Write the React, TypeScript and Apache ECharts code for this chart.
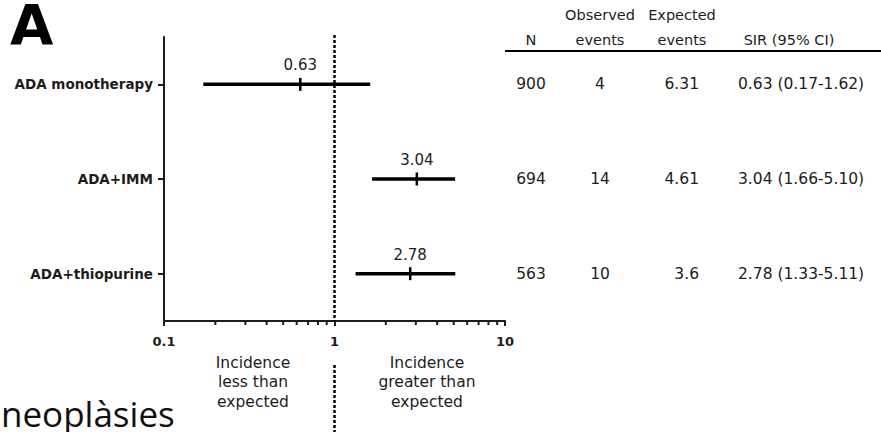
import React, { useEffect, useRef } from "react";
import * as echarts from "echarts";

// Standardised incidence ratios of neoplasia by treatment group
const groups = ["ADA monotherapy", "ADA+IMM", "ADA+thiopurine"];
const sirValues = [0.63, 3.04, 2.78];
const ciLower = [0.17, 1.66, 1.33];
const ciUpper = [1.62, 5.1, 5.11];
const patientsN = [900, 694, 563];
const observedEvents = [4, 14, 10];
const expectedEvents = [6.31, 4.61, 3.6];

// Log-axis ticks
const xMin = 0.1;
const xMax = 10;
const referenceValue = 1;
const minorTickValues = [0.2, 0.3, 0.4, 0.5, 0.6, 0.7, 0.8, 0.9, 2, 3, 4, 5, 6, 7, 8, 9];

const FONT = "DejaVu Sans";
const INK = "#1c1c1c";

export default function App() {
  const ref = useRef<HTMLDivElement>(null);

  useEffect(() => {
    if (!ref.current) return;
    const chart = echarts.init(ref.current, null, { renderer: "svg" });

    const rows = groups.map((_, i) => [
      i,
      ciLower[i],
      ciUpper[i],
      sirValues[i],
      patientsN[i],
      observedEvents[i],
      expectedEvents[i],
    ]);

    const fmt2 = (v: number) => v.toFixed(2);

    const option: any = {
      animation: false,
      backgroundColor: "#ffffff",
      grid: { left: 164, right: 376, top: 37, bottom: 111 },
      xAxis: {
        type: "log",
        logBase: 10,
        min: xMin,
        max: xMax,
        axisLine: { show: true, onZero: false, lineStyle: { color: INK, width: 2 } },
        axisTick: { show: true, length: 5, lineStyle: { color: INK, width: 2 } },
        splitLine: { show: false },
        axisLabel: {
          margin: 14,
          color: INK,
          fontFamily: FONT,
          fontWeight: "bold",
          fontSize: 13,
          formatter: (v: number) => String(v),
        },
      },
      yAxis: {
        type: "category",
        data: groups,
        inverse: true,
        axisLine: { show: true, lineStyle: { color: INK, width: 2 } },
        axisTick: { show: true, alignWithLabel: true, length: 6, lineStyle: { color: INK, width: 2 } },
        splitLine: { show: false },
        axisLabel: {
          margin: 11,
          color: INK,
          fontFamily: FONT,
          fontWeight: "bold",
          fontSize: 13.5,
        },
      },
      series: [
        {
          type: "custom",
          name: "SIR",
          data: rows,
          encode: { x: [1, 2, 3], y: 0 },
          clip: false,
          renderItem: (params: any, api: any) => {
            const idx = api.value(0);
            const lo = api.coord([api.value(1), idx]);
            const hi = api.coord([api.value(2), idx]);
            const mid = api.coord([api.value(3), idx]);
            const y = mid[1];
            const cell = (text: string, x: number, align: string) => ({
              type: "text",
              style: {
                text,
                x,
                y,
                align,
                verticalAlign: "middle",
                fill: INK,
                font: `15.5px "${FONT}"`,
              },
            });
            return {
              type: "group",
              children: [
                {
                  type: "line",
                  shape: { x1: lo[0], y1: y, x2: hi[0], y2: y },
                  style: { stroke: "#000", lineWidth: 3.5 },
                },
                {
                  type: "line",
                  shape: { x1: mid[0], y1: y - 6.5, x2: mid[0], y2: y + 6.5 },
                  style: { stroke: "#000", lineWidth: 2.5 },
                },
                {
                  type: "text",
                  style: {
                    text: fmt2(api.value(3)),
                    x: mid[0],
                    y: y - 19,
                    align: "center",
                    verticalAlign: "middle",
                    fill: INK,
                    font: `15px "${FONT}"`,
                  },
                },
                cell(String(api.value(4)), 531, "center"),
                cell(String(api.value(5)), 600, "center"),
                cell(String(api.value(6)), 699, "right"),
                cell(
                  `${fmt2(api.value(3))} (${fmt2(api.value(1))}-${fmt2(api.value(2))})`,
                  738,
                  "left"
                ),
              ],
            };
          },
        },
        {
          type: "custom",
          name: "axis extras",
          data: [[referenceValue, 0]],
          encode: { x: 0, y: 1 },
          clip: false,
          silent: true,
          renderItem: (params: any, api: any) => {
            const cs = params.coordSys;
            const base = cs.y + cs.height;
            const refX = api.coord([api.value(0), 0])[0];
            const children: any[] = minorTickValues.map((v) => {
              const x = api.coord([v, 0])[0];
              return {
                type: "line",
                shape: { x1: x, y1: base, x2: x, y2: base + 4 },
                style: { stroke: INK, lineWidth: 2 },
              };
            });
            const dash = { stroke: "#000", lineWidth: 2.5, lineDash: [3, 2] };
            children.push({
              type: "line",
              shape: { x1: refX, y1: cs.y - 2, x2: refX, y2: base },
              style: dash,
            });
            children.push({
              type: "line",
              shape: { x1: refX, y1: base + 44, x2: refX, y2: 432 },
              style: dash,
            });
            return { type: "group", children };
          },
        },
      ],
      graphic: [
        {
          type: "text",
          style: {
            text: "A",
            x: 10,
            y: 24,
            align: "left",
            verticalAlign: "middle",
            lineHeight: 44,
            fill: "#000",
            font: `bold 56px "${FONT}"`,
          },
        },
        // table header
        ...[
          { t: "N", x: 531, y: 40 },
          { t: "Observed", x: 600, y: 15 },
          { t: "events", x: 600, y: 40 },
          { t: "Expected", x: 682, y: 15 },
          { t: "events", x: 682, y: 40 },
          { t: "SIR (95% CI)", x: 789, y: 40 },
        ].map((h) => ({
          type: "text",
          style: {
            text: h.t,
            x: h.x,
            y: h.y,
            align: "center",
            verticalAlign: "middle",
            fill: INK,
            font: `14.5px "${FONT}"`,
          },
        })),
        {
          type: "line",
          shape: { x1: 505, y1: 51, x2: 881, y2: 51 },
          style: { stroke: "#000", lineWidth: 2 },
        },
        // interpretation notes beneath the axis
        {
          type: "text",
          style: {
            text: "Incidence\nless than\nexpected",
            x: 253,
            y: 353,
            align: "center",
            verticalAlign: "top",
            lineHeight: 19.5,
            fill: INK,
            font: `15.5px "${FONT}"`,
          },
        },
        {
          type: "text",
          style: {
            text: "Incidence\ngreater than\nexpected",
            x: 427,
            y: 353,
            align: "center",
            verticalAlign: "top",
            lineHeight: 19.5,
            fill: INK,
            font: `15.5px "${FONT}"`,
          },
        },
        {
          type: "text",
          style: {
            text: "neoplàsies",
            x: 1,
            y: 413,
            align: "left",
            verticalAlign: "middle",
            lineHeight: 30,
            fill: "#111",
            font: `35px "Open Sans"`,
          },
        },
      ],
    };

    chart.setOption(option);
    return () => chart.dispose();
  }, []);

  return (
    <div
      ref={ref}
      style={{ position: "fixed", left: 0, top: 0, width: 881, height: 432, background: "#fff" }}
    />
  );
}
